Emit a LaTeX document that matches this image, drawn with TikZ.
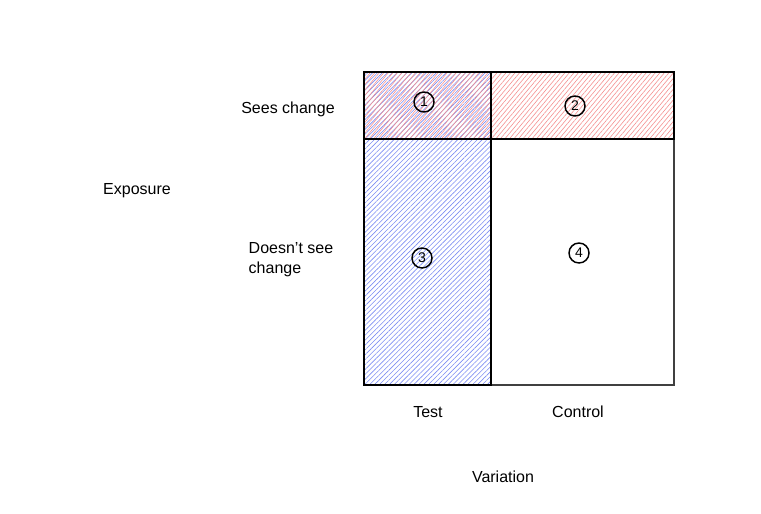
\documentclass[tikz,border=0pt]{standalone}
\usepackage{fontspec}
\setmainfont{Liberation Sans}
\usepackage{tikz}
\usetikzlibrary{
	patterns.meta,
	positioning
}
\definecolor{hatchblue}{HTML}{7C8CF2}
\definecolor{hatchred}{HTML}{F49090}
\tikzset{
	cellnum/.style={draw,circle,line width=1.1pt,inner sep=0pt,minimum size=15pt,font=\fontsize{10.5}{12}\selectfont},
	lbl/.style={font=\fontsize{12}{15}\selectfont}
}

\begin{document}
\begin{tikzpicture}[x=0.75pt,y=-0.75pt]
		\useasboundingbox (0,0) rectangle (761,514);
		% outer square
		\draw[thick,black!75] (364,72) rectangle (674,385);
		% test column and seen row
		\fill[pattern={Lines[angle=45,distance=2.6pt,line width=0.45pt]},pattern color=hatchblue] (364,72) rectangle (491,385);
		\fill[pattern={Lines[angle=50,distance=2.6pt,line width=0.45pt]},pattern color=hatchred] (364,72) rectangle (674,139);
		\draw[thick] (364,72) rectangle (491,385);
		\draw[thick] (364,72) rectangle (674,139);

		\draw
			node[cellnum] (c1) at (424,102) {1}
			node[cellnum] (c2) at (575,106) {2}
			node[cellnum] (c3) at (422,258) {3}
			node[cellnum] (c4) at (579,253) {4}

			node[lbl] (sees)    at (288,109) {Sees change}
			node[lbl,align=left,anchor=west] (notsees) at (244,260) {Doesn't see\\change}
			node[lbl] (exposure) at (137,191) {Exposure}
			node[lbl] (test)    at (428,412) {Test}
			node[lbl] (control) at (578,412) {Control}
			node[lbl] (variation) at (503,477) {Variation}
		;
    \end{tikzpicture}
\end{document}
